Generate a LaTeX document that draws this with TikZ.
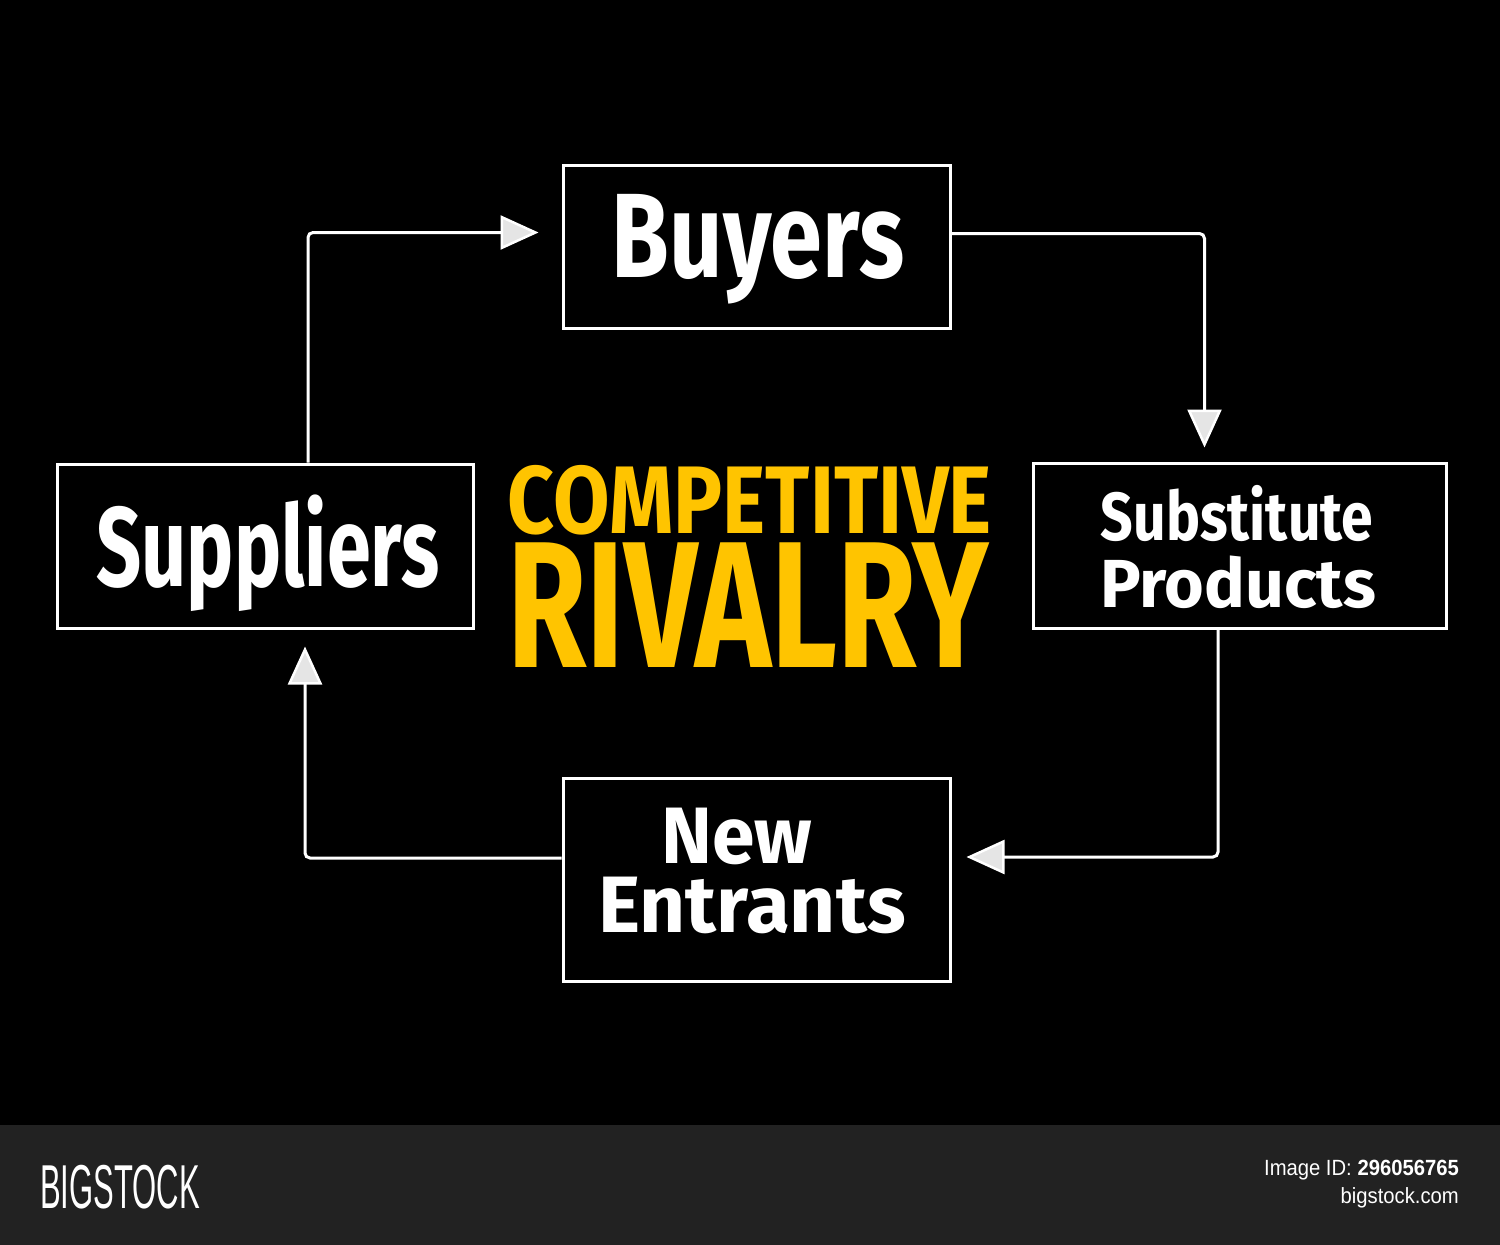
\documentclass[tikz,border=0pt]{standalone}
\usepackage{fontspec}
\setmainfont{Fira Sans}
\newfontfamily\footfont{Liberation Sans}
\usetikzlibrary{arrows.meta,calc}
\definecolor{gold}{RGB}{255,196,0}
\definecolor{footbg}{RGB}{34,34,34}
\newcommand\squeeze[2]{\scalebox{#1}[1]{#2}}
\begin{document}
\begin{tikzpicture}[x=1pt,y=-1pt,
  box/.style={draw=white,line width=3pt,rectangle,inner sep=0pt},
  label/.style={text=white,font=\bfseries,inner sep=0pt,align=center},
  title/.style={text=gold,font=\bfseries,inner sep=0pt,anchor=base},
  flow/.style={draw=white,line width=3pt,rounded corners=5pt,
    -{Triangle[length=38pt,width=34pt,line width=2.5pt,fill=white!90!black]}},
  foot/.style={text=white,inner sep=0pt}]
\useasboundingbox (0,0) rectangle (1500,1245);
\fill[black] (0,0) rectangle (1500,1245);
\fill[footbg] (0,1125) rectangle (1500,1245);

% boxes
\node[box,minimum width=387pt,minimum height=163pt] (buy) at (756.5,246.5) {};
\node[box,minimum width=416pt,minimum height=164pt] (sup) at (265,546) {};
\node[box,minimum width=413pt,minimum height=165pt] (sub) at (1239.5,545.5) {};
\node[box,minimum width=387pt,minimum height=203pt] (new) at (756.5,879.5) {};

% labels
\node[label,font=\bfseries\fontsize{120}{120}\selectfont] (tbuy) at (758,249) {\squeeze{0.78}{Buyers}};
\node[label,font=\bfseries\fontsize{113}{113}\selectfont] (tsup) at (268,553) {\squeeze{0.70}{Suppliers}};
\node[label,anchor=base,font=\bfseries\fontsize{68}{68}\selectfont] (tsub1) at (1237,540) {\squeeze{0.84}{Substitute}};
\node[label,anchor=base,font=\bfseries\fontsize{68}{68}\selectfont] (tsub2) at (1238,607) {\squeeze{1.0}{Products}};
\node[label,anchor=base,font=\bfseries\fontsize{80}{80}\selectfont] (tnew1) at (737,863) {\squeeze{0.96}{New}};
\node[label,anchor=base,font=\bfseries\fontsize{80}{80}\selectfont] (tnew2) at (752,932) {\squeeze{1.0}{Entrants}};

% title
\node[title,font=\bfseries\fontsize{96}{96}\selectfont] (t1) at (750,533) {\squeeze{0.853}{COMPETITIVE}};
\node[title,font=\bfseries\fontsize{180}{180}\selectfont] (t2) at (748,667) {\squeeze{0.715}{RIVALRY}};

% connectors
\draw[flow,shorten >=23pt] ([xshift=43pt]sup.north) |- ([yshift=14pt]buy.west);
\draw[flow,shorten >=14pt] ([yshift=13pt]buy.east) -| ([xshift=-35pt]sub.north);
\draw[flow,shorten >=15pt] ([xshift=-21.5pt]sub.south) |- ([yshift=22.5pt]new.east);
\draw[flow,shorten >=17pt] ([yshift=21.5pt]new.west) -| ([xshift=40pt]sup.south);

% footer
\node[foot,anchor=base west,font=\footfont\fontsize{62}{62}\selectfont] (brand) at (40,1208) {\squeeze{0.5}{BIGSTOCK}};
\node[foot,anchor=base east,font=\footfont\fontsize{22}{22}\selectfont] (imgid) at (1459,1175) {\squeeze{0.92}{Image ID: \textbf{296056765}}};
\node[foot,anchor=base east,font=\footfont\fontsize{22}{22}\selectfont] (site) at (1459,1203) {\squeeze{0.92}{bigstock.com}};
\end{tikzpicture}
\end{document}
